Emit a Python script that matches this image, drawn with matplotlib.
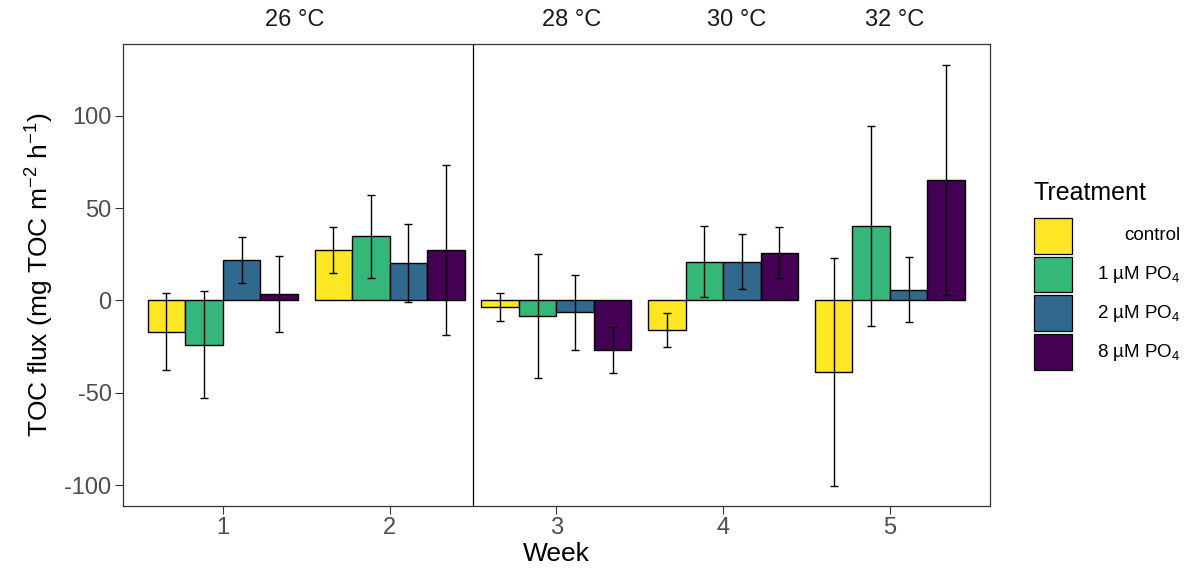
import matplotlib
matplotlib.use("Agg")
import matplotlib.pyplot as plt
from matplotlib.patches import Rectangle
import numpy as np

plt.rcParams.update({
    "font.family": ["Liberation Sans", "DejaVu Sans"],
    "mathtext.default": "regular",
    "axes.unicode_minus": False,
})

weeks = [1, 2, 3, 4, 5]
treatments = ["control", "1 µM PO$_4$", "2 µM PO$_4$", "8 µM PO$_4$"]
colors = ["#FDE725", "#35B779", "#31688E", "#440154"]

# mean TOC flux per treatment, one value per week
control = [-16.8, 27.4, -3.6, -15.9, -38.7]
po4_1 = [-24.0, 34.8, -8.3, 21.1, 40.4]
po4_2 = [22.0, 20.2, -6.5, 21.1, 5.8]
po4_8 = [3.4, 27.4, -26.8, 25.9, 65.2]

# error bar half-widths
control_err = [21.1, 12.4, 7.4, 9.2, 61.5]
po4_1_err = [29.0, 22.5, 33.6, 19.3, 54.2]
po4_2_err = [12.4, 21.2, 20.3, 14.8, 17.5]
po4_8_err = [20.7, 46.0, 12.4, 13.8, 62.5]

temp_labels = ["26 °C", "28 °C", "30 °C", "32 °C"]
temp_pos = [1.43, 3.09, 4.08, 5.03]

y_ticks = [-100, -50, 0, 50, 100]

means = [control, po4_1, po4_2, po4_8]
errs = [control_err, po4_1_err, po4_2_err, po4_8_err]

W, H = 1190, 581
fig = plt.figure(figsize=(W / 100, H / 100), dpi=100)
ax = fig.add_axes([122.7 / W, 1 - 506 / H, (990 - 122.7) / W, (506 - 44) / H])

x = np.array(weeks, dtype=float)
bw = 0.225
for i, (m, e, c) in enumerate(zip(means, errs, colors)):
    xi = x + (i - 1.5) * bw
    ax.bar(xi, m, width=bw, color=c, edgecolor="black", linewidth=1.0, zorder=2)
    ax.errorbar(xi, m, yerr=e, fmt="none", ecolor="black", elinewidth=1.0,
                capsize=2.8, capthick=1.0, zorder=3)

ax.axvline(2.5, color="black", lw=0.9, zorder=1)

ax.set_xlim(0.4, 5.6)
ax.set_ylim(-111.3, 138.9)
ax.set_xticks(weeks)
ax.set_yticks(y_ticks)
ax.set_yticklabels([str(v) for v in y_ticks])
ax.tick_params(axis="both", colors="#333333", length=5.5, width=0.8,
               labelsize=17, labelcolor="#4D4D4D", pad=2.5)
for s in ax.spines.values():
    s.set_color("#333333")
    s.set_linewidth(0.9)

ax.set_xlabel("Week", fontsize=19, labelpad=2)
ax.set_ylabel("TOC flux (mg TOC m$^{-2}$ h$^{-1}$)", fontsize=19, labelpad=6)

for lbl, p in zip(temp_labels, temp_pos):
    ax.text(p, 1 + 24 / (506 - 44), lbl, transform=ax.get_xaxis_transform(),
            ha="center", va="center", fontsize=17, color="#1A1A1A")

# legend drawn by hand so labels sit right-aligned like the original
fig.text(1033 / W, 1 - 193 / H, "Treatment", fontsize=18, ha="left", va="center")
key_top = 218
for i, (lab, c) in enumerate(zip(treatments, colors)):
    y0 = key_top + i * 38.7
    fig.patches.append(Rectangle((1034 / W, 1 - (y0 + 35.5) / H), 38 / W, 35.5 / H,
                                 transform=fig.transFigure, facecolor=c,
                                 edgecolor="black", linewidth=0.9))
    fig.text(1180 / W, 1 - (y0 + 18) / H, lab, fontsize=13.5, ha="right", va="center")

fig.savefig("out.png", dpi=100)
